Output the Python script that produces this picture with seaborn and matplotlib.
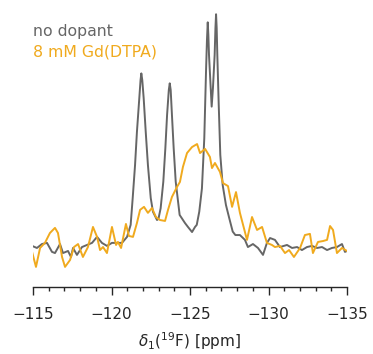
import numpy as np
import pandas as pd
import matplotlib
matplotlib.use("Agg")
import matplotlib.pyplot as plt
import seaborn as sns
from matplotlib.ticker import MultipleLocator

# 19F chemical shift (ppm, magnitude) and intensity (a.u.) for each sample
ppm_no_dopant = [
    114.94, 115.25, 115.57, 115.89, 116.21, 116.40, 116.72, 116.91, 117.23, 117.42,
    117.55, 117.80, 118.12, 118.44, 118.76, 119.08, 119.39, 119.71, 120.03, 120.35,
    120.67, 120.99, 121.22, 121.35, 121.50, 121.62, 121.77, 121.85, 121.90, 121.96,
    122.05, 122.18, 122.32, 122.50, 122.64, 122.90, 122.99, 123.13, 123.30, 123.43,
    123.54, 123.65, 123.71, 123.77, 123.85, 123.96, 124.09, 124.34, 124.68, 124.87,
    125.13, 125.32, 125.43, 125.59, 125.76, 125.91, 126.02, 126.08, 126.13, 126.17,
    126.21, 126.32, 126.38, 126.46, 126.57, 126.62, 126.66, 126.70, 126.74, 126.83,
    126.93, 127.08, 127.29, 127.50, 127.72, 127.89, 128.18, 128.50, 128.69, 129.01,
    129.33, 129.65, 129.90, 130.10, 130.41, 130.73, 131.18, 131.50, 131.82, 132.13,
    132.45, 132.77, 133.09, 133.41, 133.73, 134.04, 134.36, 134.68, 134.87, 135.00,
]
int_no_dopant = [
    -0.4, -1.3, 0.4, 0.9, -3.0, -3.5, 0.4, -3.5, -2.6, -5.2,
    -1.3, -4.3, -0.9, 0.0, 0.9, 3.5, 0.9, -0.4, 0.9, 0.9,
    0.9, 3.5, 8.7, 20.3, 34.6, 49.0, 63.5, 71.4, 74.3, 71.4,
    63.5, 49.0, 34.6, 20.3, 14.4, 10.8, 11.3, 15.9, 27.4, 41.9,
    56.3, 67.1, 70.0, 67.1, 56.3, 41.9, 27.4, 13.0, 9.5, 7.8,
    5.6, 7.8, 8.7, 14.4, 24.5, 46.2, 75.0, 88.7, 96.4, 90.9,
    82.3, 67.8, 59.9, 67.8, 82.3, 93.9, 99.9, 93.9, 82.3, 60.6,
    39.0, 26.0, 17.3, 11.6, 5.8, 4.3, 4.3, 2.2, -0.9, 0.4,
    -1.3, -4.3, 0.9, 3.0, 2.2, -0.9, 0.0, -1.3, -0.9, -2.2,
    -0.9, -0.4, -1.3, -0.9, -2.2, -1.3, -0.9, 0.4, -3.0, -2.6,
]

ppm_gd = [
    114.94, 115.19, 115.45, 115.76, 116.08, 116.40, 116.59, 116.85, 117.04, 117.36,
    117.61, 117.87, 118.18, 118.50, 118.82, 119.08, 119.27, 119.46, 119.71, 120.03,
    120.29, 120.41, 120.61, 120.92, 121.11, 121.37, 121.62, 121.82, 122.07, 122.32,
    122.58, 122.83, 123.09, 123.41, 123.60, 123.85, 124.17, 124.36, 124.55, 124.81,
    125.13, 125.45, 125.64, 125.96, 126.27, 126.40, 126.59, 126.91, 127.10, 127.42,
    127.68, 127.93, 128.18, 128.63, 128.95, 129.27, 129.59, 129.90, 130.22, 130.41,
    130.73, 131.05, 131.31, 131.62, 132.01, 132.32, 132.64, 132.83, 133.15, 133.47,
    133.73, 133.92, 134.11, 134.36, 134.68, 135.00,
]
int_gd = [
    -3.0, -9.5, -1.3, 0.9, 5.2, 7.4, 5.2, -5.2, -9.5, -6.5,
    -0.9, 0.4, -5.2, -0.9, 7.8, 3.5, -2.2, -0.9, -3.5, 7.8,
    0.0, 1.3, -1.3, 9.1, 3.9, 3.5, 9.5, 15.2, 16.5, 13.9,
    16.0, 12.1, 10.8, 10.4, 15.2, 20.8, 25.1, 27.3, 33.8, 39.8,
    42.4, 43.7, 39.8, 41.6, 38.1, 33.3, 35.5, 31.6, 26.8, 25.5,
    16.5, 22.9, 13.9, 2.2, 12.1, 6.5, 7.8, 0.9, 0.0, -0.9,
    -0.4, -3.5, -2.2, -5.2, -1.3, 4.3, 4.8, -3.5, 1.3, 1.7,
    2.2, 8.2, 6.5, -3.5, -1.3, -2.6,
]

labels = ["no dopant", "8 mM Gd(DTPA)"]
colors = ["#666666", "#F0AA1E"]

df = pd.concat([
    pd.DataFrame({"shift": -np.array(ppm_no_dopant), "intensity": int_no_dopant, "sample": labels[0]}),
    pd.DataFrame({"shift": -np.array(ppm_gd), "intensity": int_gd, "sample": labels[1]}),
], ignore_index=True)

sns.set_style("ticks")
plt.rcParams["font.family"] = ["DejaVu Sans"]

fig = plt.figure(figsize=(3.73, 3.54), dpi=100)
ax = fig.add_axes([33 / 373, 1 - 287 / 354, 314 / 373, 282 / 354])

sns.lineplot(data=df, x="shift", y="intensity", hue="sample", hue_order=labels,
             palette=colors, linewidth=1.4, sort=False, estimator=None,
             legend=False, ax=ax)
# draw the doped sample on top of the reference trace
for line, z in zip(ax.get_lines(), [2, 3]):
    line.set_zorder(z)
    line.set_solid_joinstyle("round")

ax.set_xlim(-115, -135)
ax.set_ylim(-18.2, 103.9)
ax.xaxis.set_major_locator(MultipleLocator(5))
ax.xaxis.set_minor_locator(MultipleLocator(1))
ax.tick_params(axis="x", which="major", length=5.5, width=1.0, labelsize=11, pad=8.7)
ax.tick_params(axis="x", which="minor", length=3.0, width=1.0)
ax.set_yticks([])
ax.set_ylabel("")
ax.set_xlabel(r"$\delta_1$($^{19}$F) [ppm]", fontsize=11, labelpad=6)
for s in ["left", "right", "top"]:
    ax.spines[s].set_visible(False)
ax.spines["bottom"].set_linewidth(1.0)

for i, (lab, col) in enumerate(zip(labels, colors)):
    ax.text(0.0, 0.905 - i * 0.073, lab, color=col, fontsize=11.3,
            transform=ax.transAxes, ha="left", va="center")

fig.savefig("out.png", dpi=100)
